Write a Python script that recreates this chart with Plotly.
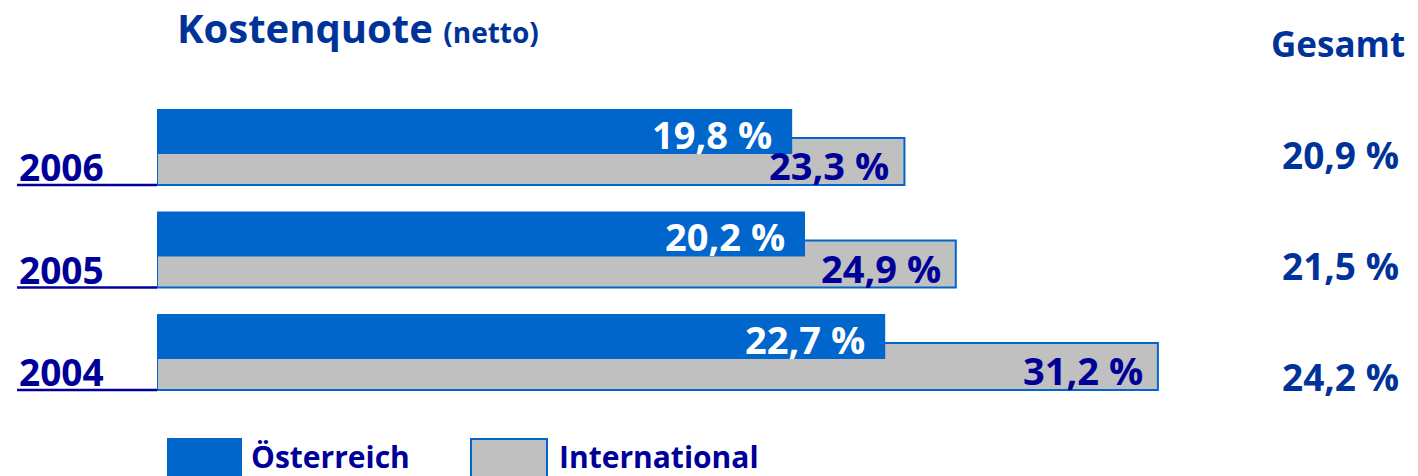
import plotly.graph_objects as go

# ---- data ----
years = [2006, 2005, 2004]
oesterreich = [19.8, 20.2, 22.7]
international = [23.3, 24.9, 31.2]
gesamt = [20.9, 21.5, 24.2]
series_names = ["Österreich", "International"]
title_main = "Kostenquote"
title_sub = "(netto)"
gesamt_label = "Gesamt"

# ---- style ----
W, H = 1418, 476
ML = 157
PX_PER_UNIT = 32.08
PITCH = 102.5          # px per year row
ROW0_PX = 131.5        # centre of first blue bar (px from top)
BLUE = "#0066CC"
GREY = "#C0C0C0"
NAVY = "#000099"
TITLE_BLUE = "#003399"
FONT = "Open Sans"

def fmt(v):
    return f"{v:.1f}".replace(".", ",") + " %"

def px_x(px):   # pixel -> paper x
    return (px - ML) / (W - ML)

def px_y(py):   # pixel -> paper y
    return 1 - py / H

y_top = years[0] + ROW0_PX / PITCH
y_bot = years[0] - (H - ROW0_PX) / PITCH

fig = go.Figure()
fig.add_trace(go.Bar(
    y=years, x=international, orientation="h", name=series_names[1],
    marker=dict(color=GREY, line=dict(color=BLUE, width=2)),
    offset=-0.522, width=0.459, showlegend=False, hoverinfo="skip",
))
fig.add_trace(go.Bar(
    y=years, x=oesterreich, orientation="h", name=series_names[0],
    marker=dict(color=BLUE, line=dict(width=0)),
    offset=-0.22, width=0.439, showlegend=False, hoverinfo="skip",
))

ann = []
shapes = []
for yr, a, b in zip(years, oesterreich, international):
    ann.append(dict(x=a, y=yr - 0.024, xref="x", yref="y", text=fmt(a),
                    xanchor="right", yanchor="middle", xshift=-18, showarrow=False,
                    font=dict(family=FONT, size=38, color="white", weight=700)))
    ann.append(dict(x=b, y=yr - 0.330, xref="x", yref="y", text=fmt(b),
                    xanchor="right", yanchor="middle", xshift=-13, showarrow=False,
                    font=dict(family=FONT, size=38, color=NAVY, weight=700)))
    ann.append(dict(x=px_x(17), y=yr - 0.346, xref="paper", yref="y", text=str(yr),
                    xanchor="left", yanchor="middle", showarrow=False,
                    font=dict(family=FONT, size=37, color=NAVY, weight=700)))
    shapes.append(dict(type="line", xref="paper", yref="y", x0=px_x(17), x1=0,
                       y0=yr - 0.522, y1=yr - 0.522, line=dict(color=NAVY, width=2.5)))

gesamt_px = [154.5, 265, 376]
for g, py in zip(gesamt, gesamt_px):
    ann.append(dict(x=px_x(1401), y=px_y(py), xref="paper", yref="paper", text=fmt(g),
                    xanchor="right", yanchor="middle", showarrow=False,
                    font=dict(family=FONT, size=37, color=TITLE_BLUE, weight=700)))

ann.append(dict(x=px_x(1407), y=px_y(43), xref="paper", yref="paper", text=gesamt_label,
                xanchor="right", yanchor="middle", showarrow=False,
                font=dict(family=FONT, size=35, color=TITLE_BLUE, weight=700)))
ann.append(dict(x=px_x(175), y=px_y(27), xref="paper", yref="paper",
                text=f"{title_main} <span style='font-size:28px'>{title_sub}</span>",
                xanchor="left", yanchor="middle", showarrow=False,
                font=dict(family=FONT, size=40, color=TITLE_BLUE, weight=700)))

# legend (manual, large swatches)
shapes.append(dict(type="rect", xref="paper", yref="paper", x0=px_x(167), x1=px_x(242),
                   y0=px_y(482), y1=px_y(438), fillcolor=BLUE, line=dict(width=0)))
shapes.append(dict(type="rect", xref="paper", yref="paper", x0=px_x(471), x1=px_x(547),
                   y0=px_y(482), y1=px_y(439), fillcolor=GREY, line=dict(color=BLUE, width=2)))
ann.append(dict(x=px_x(249), y=px_y(456), xref="paper", yref="paper", text=series_names[0],
                xanchor="left", yanchor="middle", showarrow=False,
                font=dict(family=FONT, size=30, color=NAVY, weight=700)))
ann.append(dict(x=px_x(557), y=px_y(456), xref="paper", yref="paper", text=series_names[1],
                xanchor="left", yanchor="middle", showarrow=False,
                font=dict(family=FONT, size=30, color=NAVY, weight=700)))

fig.update_layout(
    width=W, height=H,
    margin=dict(l=ML, r=0, t=0, b=0),
    paper_bgcolor="white", plot_bgcolor="white",
    barmode="overlay",
    xaxis=dict(range=[0, (W - ML) / PX_PER_UNIT], visible=False, fixedrange=True),
    yaxis=dict(range=[y_bot, y_top], visible=False, fixedrange=True),
    annotations=ann, shapes=shapes, showlegend=False,
)

fig.write_html(
    "out.html",
    config={"displayModeBar": False},
    post_script="document.body.style.margin='0';document.body.style.overflow='hidden';",
)
